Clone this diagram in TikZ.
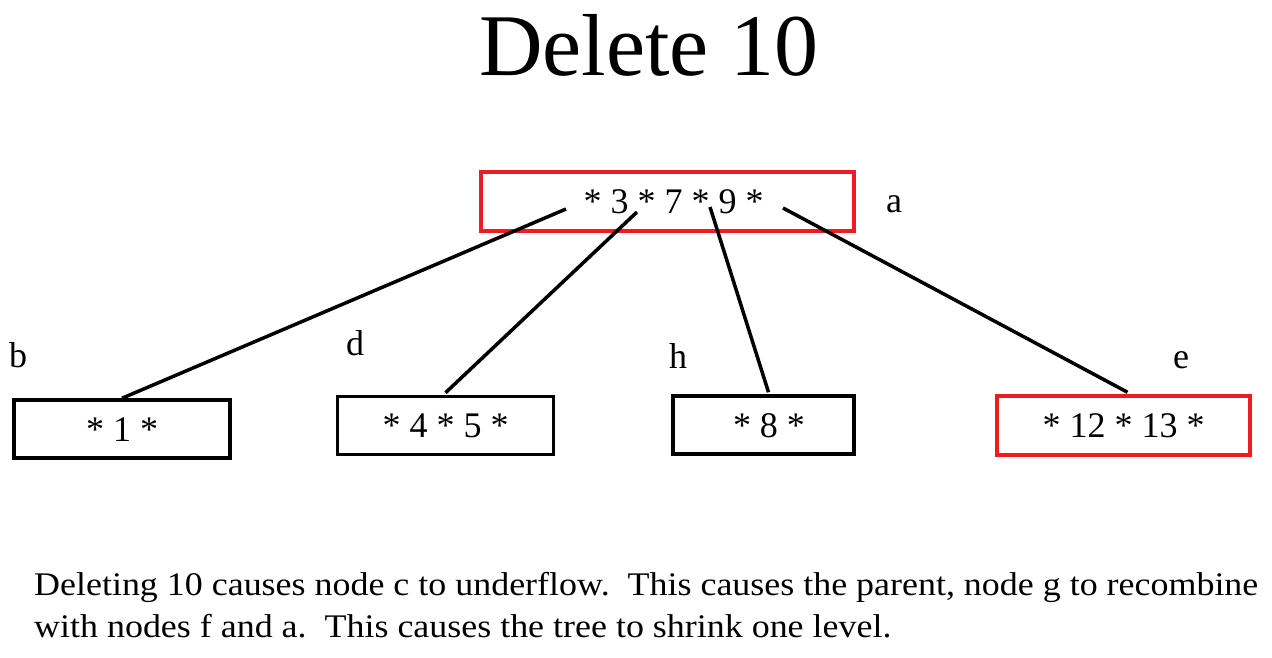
\documentclass[tikz,border=0pt]{standalone}
\usepackage{fontspec}
\setmainfont{Liberation Serif}
\usepackage{graphicx}
\definecolor{boxred}{RGB}{237,28,36}
\begin{document}
\begin{tikzpicture}[x=1pt,y=-1pt,
  keybox/.style={draw, line width=3.5pt, rectangle, inner sep=0pt,
    font=\fontsize{36}{43}\selectfont, text height=24pt, text depth=0pt},
  redbox/.style={keybox, draw=boxred},
  lbl/.style={anchor=base west, inner sep=0pt, font=\fontsize{36}{43}\selectfont},
  link/.style={line width=3.5pt}]
\useasboundingbox (0,0) rectangle (1272,658);
\fill[white] (0,0) rectangle (1272,658);

\node[anchor=base, inner sep=0pt, font=\fontsize{88}{100}\selectfont] (title) at (649,76) {Delete 10};

\node[redbox, minimum width=373pt, minimum height=59pt] (a) at (667.5,201.5) {\hspace*{12pt}* 3 * 7 * 9 *};
\node[keybox, minimum width=216pt, minimum height=58pt] (b) at (122,429) {* 1 *};
\node[keybox, minimum width=216pt, minimum height=58pt] (d) at (445.5,425.5) {* 4 * 5 *};
\node[keybox, minimum width=181pt, minimum height=58pt] (h) at (763.5,425) {\hspace*{11pt}* 8 *};
\node[redbox, minimum width=253pt, minimum height=59pt] (e) at (1123.5,425.5) {* 12 * 13 *};

\node[lbl] (la) at (886,212) {a};
\node[lbl] (lb) at (9,367) {b};
\node[lbl] (ld) at (346,355) {d};
\node[lbl] (lh) at (669,368) {h};
\node[lbl] (le) at (1173,368) {e};

\coordinate (a1) at (566,209);
\coordinate (a2) at (637,212);
\coordinate (a3) at (710,207);
\coordinate (a4) at (783,208);

\draw[link] (a1) -- (b.north);
\draw[link] (a2) -- ([yshift=2pt]d.north);
\draw[link] (a3) -- ([xshift=5pt,yshift=2pt]h.north);
\draw[link] (a4) -- ([xshift=4pt,yshift=2pt]e.north);

\node[anchor=base west, inner sep=0pt, font=\fontsize{33}{42}\selectfont] (caption) at (34,595)
  {\resizebox{1224pt}{\height}{\begin{tabular}[t]{@{}l@{}}Deleting 10 causes node c to underflow.\ \ This causes the parent, node g to recombine\\with nodes f and a.\ \ This causes the tree to shrink one level.\end{tabular}}};
\end{tikzpicture}
\end{document}
